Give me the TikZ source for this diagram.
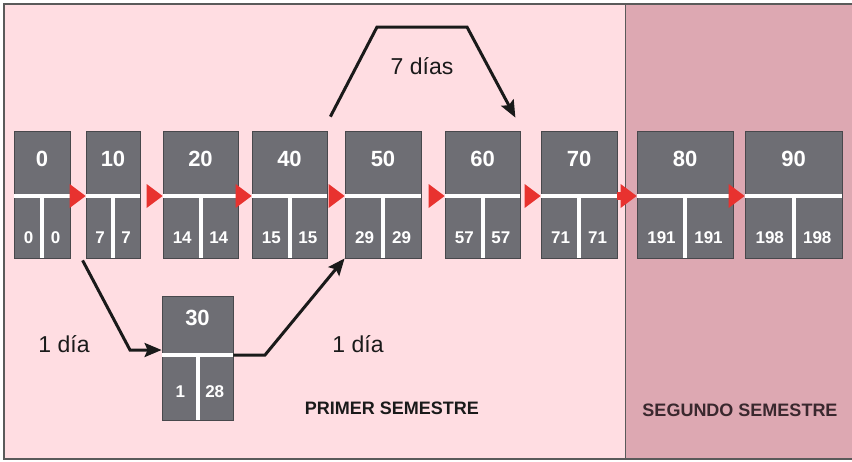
\documentclass[tikz,border=0pt]{standalone}
\usepackage{fontspec}
\setmainfont{Liberation Sans}
\usetikzlibrary{arrows.meta,calc}

\definecolor{pinklight}{HTML}{FFDDE2}
\definecolor{pinkdark}{HTML}{DDA8B2}
\definecolor{boxgray}{HTML}{6E6E74}
\definecolor{boxedge}{HTML}{48484C}
\definecolor{tipred}{HTML}{E8322F}
\definecolor{framegray}{HTML}{5A5A5A}
\definecolor{ink}{HTML}{1A1A1A}

\tikzset{
  x=1pt, y=-1pt,
  gbox/.style={fill=boxgray, draw=boxedge, line width=0.8pt, inner sep=0pt},
  sep/.style={draw=white, line width=4pt},
  topnum/.style={text=white, font=\bfseries\fontsize{22}{22}\selectfont, anchor=base, inner sep=0pt},
  botnum/.style={text=white, font=\bfseries\fontsize{17}{17}\selectfont, anchor=base, inner sep=0pt},
  redtip/.style={fill=tipred},
  flow/.style={draw=ink, line width=3pt, line join=miter, -{Stealth[length=17pt,width=14pt,inset=3pt]}},
  label/.style={text=ink, font=\fontsize{23}{23}\selectfont, anchor=base, inner sep=0pt},
  term/.style={font=\bfseries\fontsize{18}{18}\selectfont, anchor=base, inner sep=0pt},
}

% activity box: #1 number, #2 left, #3 right, #4 top, #5 divider line,
% #6 bottom, #7 early time, #8 late time, #9 baseline of the times
\newcommand{\actbox}[9]{%
  \node[gbox, minimum width={#3-#2}, minimum height={#6-#4}] (n#1) at ({(#2+#3)/2},{(#4+#6)/2}) {};
  \draw[sep] (#2,#5) -- (#3,#5);
  \draw[sep] ({(#2+#3)/2},#5) -- ({(#2+#3)/2},#6);
  \node[topnum] (n#1-t) at ({(#2+#3)/2},#5-30) {#1};
  \node[botnum] (n#1-a) at ({(3*#2+#3)/4+0.5},#9) {#7};
  \node[botnum] (n#1-b) at ({(#2+3*#3)/4-0.5},#9) {#8};
}

\begin{document}
\begin{tikzpicture}
\useasboundingbox (0,0) rectangle (852,461);

% two semesters
\fill[pinklight] (4,4) rectangle (625,459);
\fill[pinkdark] (625,4) rectangle (852,459);
\draw[framegray, line width=1.4pt] (852,4) -- (4,4) -- (4,459) -- (852,459);
\draw[framegray, line width=1pt] (625,4) -- (625,459);

% activities
\actbox{0}{14}{70}{131}{196}{258}{0}{0}{243}
\actbox{10}{86}{140}{131}{196}{258}{7}{7}{243}
\actbox{20}{163}{238}{131}{196}{258}{14}{14}{243}
\actbox{40}{252}{327}{131}{196}{258}{15}{15}{243}
\actbox{50}{345}{421}{131}{196}{258}{29}{29}{243}
\actbox{60}{445}{520}{131}{196}{258}{57}{57}{243}
\actbox{70}{541}{617}{131}{196}{258}{71}{71}{243}
\actbox{80}{637}{733}{131}{196}{258}{191}{191}{243}
\actbox{90}{745}{842}{131}{196}{258}{198}{198}{243}
\actbox{30}{162}{233}{296}{355}{420}{1}{28}{397}

% sequence along the critical chain: a red wedge in front of each box
\foreach \a/\b in {0/10, 10/20, 20/40, 40/50, 50/60, 60/70, 70/80, 80/90}
  \fill[redtip] ([yshift=-1.5pt]n\b.west) -- ++(-16,-12) -- ++(0,24) -- cycle;
\fill[redtip] ([yshift=-1.5pt]n70.east) ++(0,-4) rectangle ([xshift=-12pt,yshift=-5.5pt]n80.west);

% overlapping links
\coordinate (s7) at ([xshift=3pt,yshift=14pt]n40.north east);
\coordinate (t7) at ([xshift=-5pt,yshift=13pt]n60.north east);
\draw[flow] (s7) -- (377,27) -- (467,27) -- (t7);
\draw[flow] ([xshift=-3pt,yshift=-2pt]n10.south west) -- (130,350) -- ([yshift=8pt]n30.west);
\draw[flow] ([yshift=3pt]n30.east) -- (265,355) -- (n50.south west);

% labels
\node[label] (l7) at (422,74) {7 días};
\node[label] (l1a) at (64,352) {1 día};
\node[label] (l1b) at (358,352) {1 día};
\node[term, text=ink] (s1) at (392,414) {PRIMER SEMESTRE};
\node[term, text={rgb,255:red,58;green,40;blue,46}] (s2) at (740,416) {SEGUNDO SEMESTRE};
\end{tikzpicture}
\end{document}
